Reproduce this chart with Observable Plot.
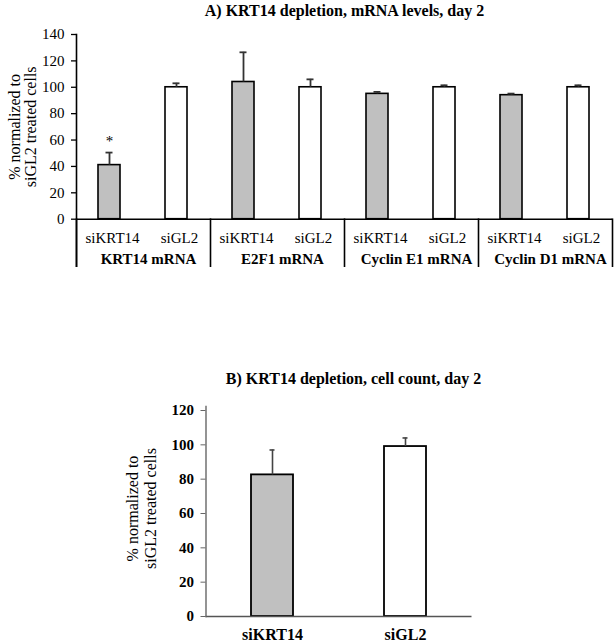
<!DOCTYPE html>
<html>
<head>
<meta charset="utf-8">
<script src="https://cdn.jsdelivr.net/npm/d3@7"></script>
<script src="https://cdn.jsdelivr.net/npm/@observablehq/plot@0.6"></script>
<style>
  html, body { margin: 0; padding: 0; background: #fff; }
  #wrap { width: 615px; height: 642px; overflow: hidden; }
  #wrap svg { display: block; }
</style>
</head>
<body>
<div id="wrap"></div>
<script>
// ---- data ----
const groups = ["KRT14 mRNA", "E2F1 mRNA", "Cyclin E1 mRNA", "Cyclin D1 mRNA"];
const treatments = ["siKRT14", "siGL2"];
const siKRT14Mrna = [41, 104, 95, 94];
const siKRT14MrnaErr = [9.5, 22.5, 1.5, 1.2];
const siGL2Mrna = [100, 100, 100, 100];
const siGL2MrnaErr = [3, 6, 1.5, 1.5];
const significantGroups = ["KRT14 mRNA"];
const mrnaTicks = [0, 20, 40, 60, 80, 100, 120, 140];

const countMean = [82.5, 99];
const countErr = [14.5, 5];
const countTicks = [0, 20, 40, 60, 80, 100, 120];

const titleA = "A) KRT14 depletion, mRNA levels, day 2";
const titleB = "B) KRT14 depletion, cell count, day 2";
const yLabelLines = ["% normalized to", "siGL2 treated cells"];

// ---- tables ----
const rowsA = [];
groups.forEach((g, i) => {
  rowsA.push({group: g, treatment: treatments[0], value: siKRT14Mrna[i], err: siKRT14MrnaErr[i]});
  rowsA.push({group: g, treatment: treatments[1], value: siGL2Mrna[i], err: siGL2MrnaErr[i]});
});
const starsA = rowsA.filter(d => d.treatment === treatments[0] && significantGroups.includes(d.group));
const rowsB = treatments.map((t, i) => ({treatment: t, value: countMean[i], err: countErr[i]}));

const serif = "'Liberation Serif', 'Times New Roman', Times, serif";
const color = {domain: treatments, range: ["#c0c0c0", "#ffffff"]};

// ---- chart A ----
const A_H = 300, A_T = 34, A_B = 81.3;
const A_frameH = A_H - A_T - A_B;
const chartA = Plot.plot({
  width: 615, height: A_H,
  marginTop: A_T, marginBottom: A_B, marginLeft: 74, marginRight: 2,
  style: {fontFamily: serif, fontSize: "15px", color: "#000", background: "#fff"},
  fx: {domain: groups, padding: 0, axis: null, label: null},
  x: {domain: treatments, paddingInner: 0.67, paddingOuter: 0.335, axis: null, label: null},
  y: {domain: [0, 140], axis: null, label: null},
  color,
  marks: [
    Plot.barY(rowsA, {fx: "group", x: "treatment", y: "value", fill: "treatment", stroke: "#000", strokeWidth: 1.6}),
    Plot.ruleX(rowsA, {fx: "group", x: "treatment", y1: "value", y2: d => d.value + d.err, stroke: "#333", strokeWidth: 1.8}),
    Plot.tickY(rowsA, {fx: "group", x: "treatment", y: d => d.value + d.err, insetLeft: 7.5, insetRight: 7.5, stroke: "#333", strokeWidth: 1.8}),
    Plot.text(starsA, {fx: "group", x: "treatment", y: d => d.value + d.err, text: () => "*", dy: -11, fontSize: 15}),
    Plot.ruleY([0], {stroke: "#000", strokeWidth: 1.6}),
    Plot.frame({anchor: "left", insetTop: A_frameH, insetBottom: -47, stroke: "#000", strokeWidth: 1.6}),
    Plot.frame({anchor: "left", fx: () => groups[0], insetBottom: -47, stroke: "#000", strokeWidth: 1.6}),
    Plot.frame({anchor: "right", fx: () => groups[groups.length - 1], insetTop: A_frameH, insetBottom: -47, stroke: "#000", strokeWidth: 1.6}),
    Plot.axisY({ticks: mrnaTicks, tickSize: 5, tickPadding: 7, fontSize: 15, label: null, strokeWidth: 1.3}),
    Plot.axisX({tickSize: 0, tickPadding: 13, fontSize: 15, label: null, dx: 3}),
    Plot.axisFx({anchor: "bottom", tickSize: 0, tickPadding: 34, fontSize: 15, fontWeight: "bold", label: null, dx: 5}),
    Plot.text([titleA], {fx: () => groups[1], frameAnchor: "top-right", textAnchor: "middle", lineAnchor: "middle", dy: -24, fontSize: 16, fontWeight: "bold"}),
    Plot.text([yLabelLines[0]], {fx: () => groups[0], frameAnchor: "left", rotate: -90, textAnchor: "middle", lineAnchor: "middle", dx: -62, fontSize: 16}),
    Plot.text([yLabelLines[1]], {fx: () => groups[0], frameAnchor: "left", rotate: -90, textAnchor: "middle", lineAnchor: "middle", dx: -46, fontSize: 16})
  ]
});

// ---- chart B ----
const B_H = 342;
const chartB = Plot.plot({
  width: 615, height: B_H,
  marginTop: 110, marginBottom: 26, marginLeft: 205.5, marginRight: 143.5,
  style: {fontFamily: serif, fontSize: "15px", color: "#000", background: "#fff"},
  x: {domain: treatments, paddingInner: 0.686, paddingOuter: 0.343, axis: null, label: null},
  y: {domain: [0, 120], axis: null, label: null},
  color,
  marks: [
    Plot.barY(rowsB, {x: "treatment", y: "value", fill: "treatment", stroke: "#000", strokeWidth: 1.8}),
    Plot.ruleX(rowsB, {x: "treatment", y1: "value", y2: d => d.value + d.err, stroke: "#444", strokeWidth: 1.6}),
    Plot.tickY(rowsB, {x: "treatment", y: d => d.value + d.err, insetLeft: 18.5, insetRight: 18.5, stroke: "#444", strokeWidth: 1.6}),
    Plot.ruleY([0], {stroke: "#555", strokeWidth: 1.6}),
    Plot.frame({anchor: "left", insetTop: -4, stroke: "#666", strokeWidth: 1.4}),
    Plot.axisY({ticks: countTicks, tickSize: 5, tickPadding: 7, fontSize: 15, fontWeight: "bold", label: null, stroke: "#666"}),
    Plot.axisX({tickSize: 0, tickPadding: 12, fontSize: 16, fontWeight: "bold", label: null}),
    Plot.text([titleB], {frameAnchor: "top", textAnchor: "middle", lineAnchor: "middle", dx: 14.5, dy: -32, fontSize: 16, fontWeight: "bold"}),
    Plot.text([yLabelLines[0]], {frameAnchor: "left", rotate: -90, textAnchor: "middle", lineAnchor: "middle", dx: -73.5, dy: -5, fontSize: 16}),
    Plot.text([yLabelLines[1]], {frameAnchor: "left", rotate: -90, textAnchor: "middle", lineAnchor: "middle", dx: -55.5, dy: -5, fontSize: 16})
  ]
});

const wrap = document.getElementById("wrap");
wrap.appendChild(chartA);
wrap.appendChild(chartB);
</script>
</body>
</html>
